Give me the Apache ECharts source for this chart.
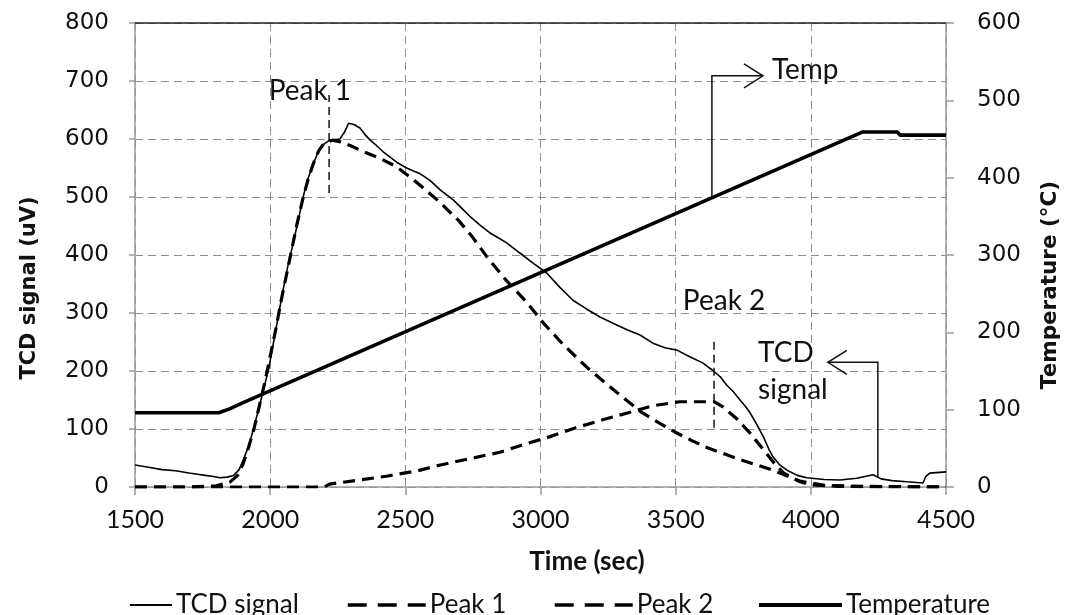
<!DOCTYPE html>
<html><head><meta charset="utf-8">
<script src="https://cdn.jsdelivr.net/npm/echarts@6/dist/echarts.min.js"></script>
<style>html,body{margin:0;padding:0;background:#fff}#c{width:1068px;height:615px}</style>
</head><body><div id="c"></div>
<script>
// ---- data (time in sec, TCD in uV, temperature in °C) ----
const tcdSignal = [
 [1500,38],[1550,34],[1600,30],[1650,28],[1700,24],[1730,22],[1760,20],[1790,18],[1815,16],[1840,17],
 [1865,20],[1885,30],[1900,46],[1920,70],[1937,98],[1955,130],[1975,167],[1995,205],[2012,248],[2030,295],
 [2048,340],[2065,380],[2085,420],[2105,462],[2122,500],[2140,532],[2160,558],[2178,578],[2195,590],[2220,598],
 [2258,600],[2275,612],[2290,627],[2310,625],[2332,619],[2350,608],[2370,598],[2395,588],[2418,578],[2440,570],
 [2468,560],[2505,550],[2530,545],[2555,540],[2590,529],[2630,512],[2677,495],[2710,480],[2740,466],[2775,452],
 [2813,438],[2850,428],[2875,421],[2900,412],[2925,403],[2970,387],[3023,369],[3070,345],[3120,322],[3170,307],
 [3220,293],[3270,282],[3320,271],[3368,262],[3416,248],[3460,240],[3505,236],[3550,225],[3600,214],[3640,200],
 [3665,190],[3690,175],[3712,165],[3738,150],[3760,138],[3775,128],[3800,108],[3825,86],[3845,65],[3860,52],
 [3885,38],[3912,29],[3950,20],[3985,16],[4050,13],[4108,12],[4170,15],[4230,21],[4260,14],[4300,11],
 [4355,9],[4415,7],[4425,18],[4440,24],[4500,26]
];
const peak1 = [
 [1500,0],[1700,0],[1800,2],[1850,8],[1880,20],[1900,40],[1920,68],[1940,100],[1960,140],[1980,180],
 [2000,225],[2020,270],[2040,320],[2060,365],[2080,410],[2100,455],[2120,495],[2140,530],[2160,558],[2180,580],
 [2200,593],[2230,598],[2260,595],[2300,588],[2345,578],[2405,567],[2468,552],[2530,530],[2580,510],[2630,490],
 [2700,458],[2750,430],[2800,398],[2870,358],[2950,318],[3010,283],[3085,245],[3175,205],[3285,162],[3370,130],
 [3440,110],[3500,94],[3560,80],[3615,68],[3740,47],[3860,29],[3960,10],[4050,3],[4200,1],[4500,0]
];
const peak2 = [
 [1500,0],[2200,0],[2220,5],[2330,12],[2435,19],[2545,28],[2630,38],[2750,50],[2850,60],[2930,72],
 [3030,86],[3130,102],[3230,116],[3325,128],[3415,140],[3515,147],[3610,147],[3642,147],[3675,138],[3725,118],
 [3775,93],[3825,64],[3870,38],[3900,24],[3960,9],[4000,4],[4100,1],[4500,0]
];
const temperature = [
 [1500,96],[1810,96],[1850,101],[1900,109],[4190,459],[4320,459],[4330,455],[4500,455]
];
const timeRange = [1500, 4500, 500];
const tcdRange = [0, 800, 100];
const tempRange = [0, 600, 100];
// annotations in data coordinates
const peakMarkers = [ {x:2218, from:507, to:676}, {x:3642, from:102, to:257} ];
const textLabels = [
 {text:'Peak 1', x:2147, y:683, align:'center'},
 {text:'Peak 2', x:3679, y:321, align:'center'},
 {text:'Temp', x:3856, y:719, align:'left'},
 {text:'TCD\nsignal', x:3805, y:200, align:'left'}
];
const tempArrow = {x:3634, fromTemp:375, topTcd:709, toX:3823};
const tcdArrow = {x:4248, from:17, top:215, toX:4063};

const FN = 'Lato, "Liberation Sans", sans-serif';
const FV = '"DejaVu Sans", Verdana, sans-serif';
const chart = echarts.init(document.getElementById('c'), null, {renderer:'canvas'});
const gridColor = '#8c8c8c';
const axisColor = '#9a9a9a';

function legendItem(name, left, width, lineStyle){
  return {data:[name], left:left, top:587, itemWidth:width, itemHeight:14, itemGap:0,
    textStyle:{fontFamily:FN, fontSize:26, color:'#111', padding:[0,0,0,-1]},
    lineStyle:Object.assign({opacity:1}, lineStyle), itemStyle:{opacity:0, color:'#000', borderWidth:0},
    selectedMode:false};
}

chart.setOption({
  animation:false,
  backgroundColor:'#fff',
  color:['#000','#000','#000','#000'],
  grid:{left:135, right:122, top:23, bottom:128, containLabel:false},
  legend:[
    legendItem('TCD signal', 124, 42, {width:1.8, type:'solid', color:'#000'}),
    legendItem('Peak 1', 341, 78, {width:3.5, type:[19,11], color:'#000'}),
    legendItem('Peak 2', 548, 78, {width:3.5, type:[19,11], color:'#000'}),
    legendItem('Temperature', 752, 83, {width:4, type:'solid', color:'#000'})
  ],
  xAxis:[{
    type:'value', min:timeRange[0], max:timeRange[1], interval:timeRange[2],
    axisLine:{show:true, onZero:false, lineStyle:{color:axisColor, width:1.5}},
    axisTick:{show:true, inside:false, length:8, lineStyle:{color:axisColor, width:1.5}},
    axisLabel:{margin:20, fontFamily:FN, fontSize:25, color:'#111', formatter:v => String(v)},
    splitLine:{show:true, lineStyle:{color:gridColor, type:[8,5], width:1}}
  },{
    type:'value', position:'top', min:timeRange[0], max:timeRange[1], interval:timeRange[2],
    axisLine:{show:true, onZero:false, lineStyle:{color:'#222', width:1.5}},
    axisTick:{show:false}, axisLabel:{show:false}, splitLine:{show:false}
  }],
  yAxis:[{
    type:'value', min:tcdRange[0], max:tcdRange[1], interval:tcdRange[2], position:'left',
    axisLine:{show:true, onZero:false, lineStyle:{color:axisColor, width:1.5}},
    axisTick:{show:true, length:6, lineStyle:{color:axisColor, width:1.5}},
    axisLabel:{margin:26, fontFamily:FV, fontSize:23, color:'#111', formatter:v => String(v)},
    splitLine:{show:true, lineStyle:{color:gridColor, type:[8,5], width:1}}
  },{
    type:'value', min:tempRange[0], max:tempRange[1], interval:tempRange[2], position:'right',
    axisLine:{show:true, onZero:false, lineStyle:{color:axisColor, width:1.5}},
    axisTick:{show:true, length:8, lineStyle:{color:axisColor, width:1.5}},
    axisLabel:{margin:31, fontFamily:FV, fontSize:23, color:'#111', formatter:v => String(v)},
    splitLine:{show:false}
  }],
  series:[
    {name:'TCD signal', type:'line', data:tcdSignal, showSymbol:false, symbol:'none', z:3,
     itemStyle:{color:'#000'}, lineStyle:{color:'#000', width:1.6}},
    {name:'Peak 1', type:'line', data:peak1, showSymbol:false, symbol:'none', z:2,
     itemStyle:{color:'#000'}, lineStyle:{color:'#000', width:3.2, type:[12,7]}},
    {name:'Peak 2', type:'line', data:peak2, showSymbol:false, symbol:'none', z:2,
     itemStyle:{color:'#000'}, lineStyle:{color:'#000', width:3.2, type:[12,7]}},
    {name:'Temperature', type:'line', data:temperature, yAxisIndex:1, showSymbol:false, symbol:'none', z:4,
     itemStyle:{color:'#000'}, lineStyle:{color:'#000', width:3.6}}
  ]
});

function px(x, y, tempAxis){
  return chart.convertToPixel(tempAxis ? {xAxisIndex:0, yAxisIndex:1} : {xAxisIndex:0, yAxisIndex:0}, [x, y]);
}
const graphics = [];
// axis titles
graphics.push({type:'text', x:30, y:288, rotation:Math.PI/2,
  style:{text:'TCD signal (uV)', font:'bold 21px "DejaVu Sans", Verdana, sans-serif', fill:'#111', align:'center', verticalAlign:'middle'}});
graphics.push({type:'text', x:1050, y:285, rotation:Math.PI/2,
  style:{text:'Temperature (°C)', font:'bold 21.5px "DejaVu Sans", Verdana, sans-serif', fill:'#111', align:'center', verticalAlign:'middle'}});
graphics.push({type:'text', x:587, y:562,
  style:{text:'Time (sec)', font:'bold 26px Lato, sans-serif', fill:'#111', align:'center', verticalAlign:'middle'}});
// peak markers
peakMarkers.forEach(m => {
  const a = px(m.x, m.from), b = px(m.x, m.to);
  graphics.push({type:'line', shape:{x1:a[0], y1:a[1], x2:b[0], y2:b[1]},
    style:{stroke:'#111', lineWidth:1.5, lineDash:[8,5]}, z:10});
});
// labels
textLabels.forEach(t => {
  const p = px(t.x, t.y);
  graphics.push({type:'text', x:p[0], y:p[1], z:10,
    style:{text:t.text, font:'28px Lato, sans-serif', fill:'#111', align:t.align, verticalAlign:'middle', lineHeight:37}});
});
// arrows
function arrow(p0, p1, p2, dir){
  graphics.push({type:'polyline', z:10, shape:{points:[p0, p1, p2]}, style:{stroke:'#111', lineWidth:1.5, fill:null}});
  const ax = p2[0], ay = p2[1], L = 19 * dir, S = 12;
  graphics.push({type:'polyline', z:10, shape:{points:[[ax - L, ay - S],[ax, ay],[ax - L, ay + S]]},
    style:{stroke:'#111', lineWidth:1.5, fill:null}});
}
{
  const p0 = px(tempArrow.x, tempArrow.fromTemp, true);
  const p1 = px(tempArrow.x, tempArrow.topTcd);
  const p2 = px(tempArrow.toX, tempArrow.topTcd);
  arrow(p0, p1, p2, 1);
}
{
  const p0 = px(tcdArrow.x, tcdArrow.from);
  const p1 = px(tcdArrow.x, tcdArrow.top);
  const p2 = px(tcdArrow.toX, tcdArrow.top);
  arrow(p0, p1, p2, -1);
}
chart.setOption({graphic:graphics});
</script>
</body></html>
